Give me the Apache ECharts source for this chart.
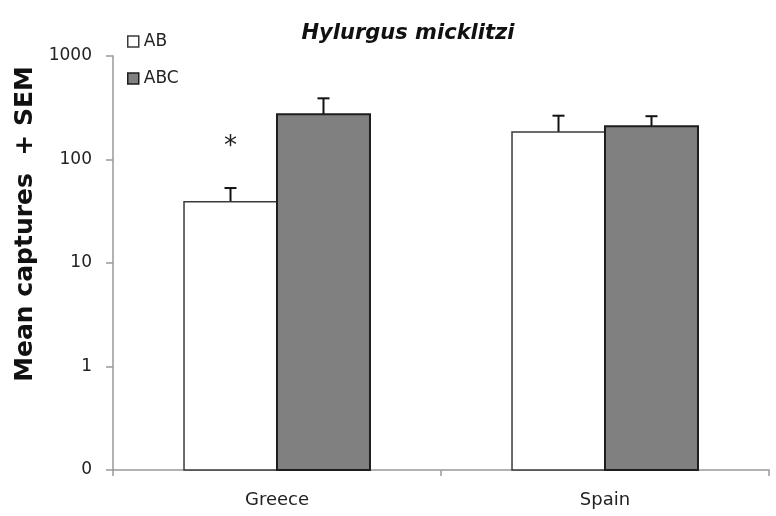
<!DOCTYPE html>
<html>
<head>
<meta charset="utf-8">
<script src="https://cdn.jsdelivr.net/npm/echarts@6/dist/echarts.min.js"></script>
<style>html,body{margin:0;padding:0;background:#fff}#c{width:776px;height:516px}</style>
</head>
<body>
<div id="c"></div>
<script>
var categories = ['Greece', 'Spain'];
var seriesNames = ['AB', 'ABC'];
var meanAB = [39, 184];
var meanABC = [273, 210];
var semTopAB = [53, 265];
var semTopABC = [390, 262];
var sigAB = ['*', ''];
var sigABC = ['', ''];
var yTicks = [0.1, 1, 10, 100, 1000];
var yTickLabels = ['0', '1', '10', '100', '1000'];

var Y_MIN = 0.1, Y_MAX = 1000;
var BAR_FRAC = 0.2835;
var FONT = '"DejaVu Sans", "Liberation Sans", sans-serif';
var STYLES = {
  AB: { fill: '#ffffff', stroke: '#3a3a3a', lw: 1.5 },
  ABC: { fill: '#808080', stroke: '#1e1e1e', lw: 2 }
};

function barSeries(name, means, tops, sigs, side) {
  var st = STYLES[name];
  return {
    type: 'custom',
    name: name,
    z: 3,
    silent: true,
    itemStyle: { color: st.fill, borderColor: st.stroke, borderWidth: st.lw },
    data: categories.map(function (c, i) { return [i, means[i], tops[i]]; }),
    renderItem: function (params, api) {
      var band = api.size([1, 1])[0];
      var bw = band * BAR_FRAC;
      var base = api.coord([api.value(0), Y_MIN]);
      var val = api.coord([api.value(0), api.value(1)]);
      var top = api.coord([api.value(0), api.value(2)]);
      var x0 = side < 0 ? base[0] - bw : base[0];
      var xc = x0 + bw / 2;
      var cap = 6;
      var children = [
        { type: 'line', z2: 1, shape: { x1: xc, y1: val[1], x2: xc, y2: top[1] }, style: { stroke: '#111', lineWidth: 2 } },
        { type: 'line', z2: 1, shape: { x1: xc - cap, y1: top[1], x2: xc + cap, y2: top[1] }, style: { stroke: '#111', lineWidth: 2 } },
        { type: 'rect', z2: 2, shape: { x: x0, y: val[1], width: bw, height: base[1] - val[1] }, style: { fill: st.fill, stroke: st.stroke, lineWidth: st.lw } }
      ];
      var s = sigs[params.dataIndex];
      if (s) {
        children.push({ type: 'text', z2: 3, style: { text: s, x: xc, y: top[1] - 41, align: 'center', verticalAlign: 'middle', fontSize: 26, fill: '#222', fontFamily: FONT } });
      }
      return { type: 'group', children: children };
    }
  };
}

var chart = echarts.init(document.getElementById('c'));
chart.setOption({
  animation: false,
  backgroundColor: '#fff',
  title: {
    text: 'Hylurgus micklitzi',
    left: 403, textAlign: 'center', top: 18,
    textStyle: { fontSize: 21, fontWeight: 'bold', fontStyle: 'italic', color: '#111', fontFamily: FONT }
  },
  legend: {
    orient: 'vertical', left: 122, top: 28,
    itemWidth: 11, itemHeight: 11, itemGap: 20,
    icon: 'rect',
    data: seriesNames.map(function (n) {
      return { name: n, itemStyle: { color: STYLES[n].fill, borderColor: STYLES[n].stroke, borderWidth: 1.5 } };
    }),
    textStyle: { fontSize: 17, color: '#222', fontFamily: FONT, padding: [0, 0, 0, 0] }
  },
  grid: { left: 113, right: 7, top: 56, bottom: 46, containLabel: false },
  xAxis: {
    type: 'category', data: categories,
    axisLine: { lineStyle: { color: '#999', width: 1.5 } },
    axisTick: { show: true, length: 6, lineStyle: { color: '#999', width: 1.5 } },
    axisLabel: { fontSize: 18, color: '#222', margin: 21, fontFamily: FONT }
  },
  yAxis: {
    type: 'log', logBase: 10, min: Y_MIN, max: Y_MAX,
    name: 'Mean captures  + SEM', nameLocation: 'middle', nameGap: 74,
    nameTextStyle: { fontSize: 25, fontWeight: 'bold', color: '#111', fontFamily: FONT, padding: [0, 0, 0, 78] },
    axisLine: { show: true, lineStyle: { color: '#999', width: 1.5 } },
    axisTick: { show: true, length: 7, lineStyle: { color: '#999', width: 1.5 } },
    splitLine: { show: false },
    minorTick: { show: false },
    axisLabel: {
      fontSize: 17, color: '#222', margin: 21, fontFamily: FONT,
      formatter: function (v) {
        for (var i = 0; i < yTicks.length; i++) {
          if (Math.abs(Math.log10(v) - Math.log10(yTicks[i])) < 1e-6) return yTickLabels[i];
        }
        return '';
      }
    }
  },
  series: [
    barSeries('AB', meanAB, semTopAB, sigAB, -1),
    barSeries('ABC', meanABC, semTopABC, sigABC, 1)
  ]
});
</script>
</body>
</html>
